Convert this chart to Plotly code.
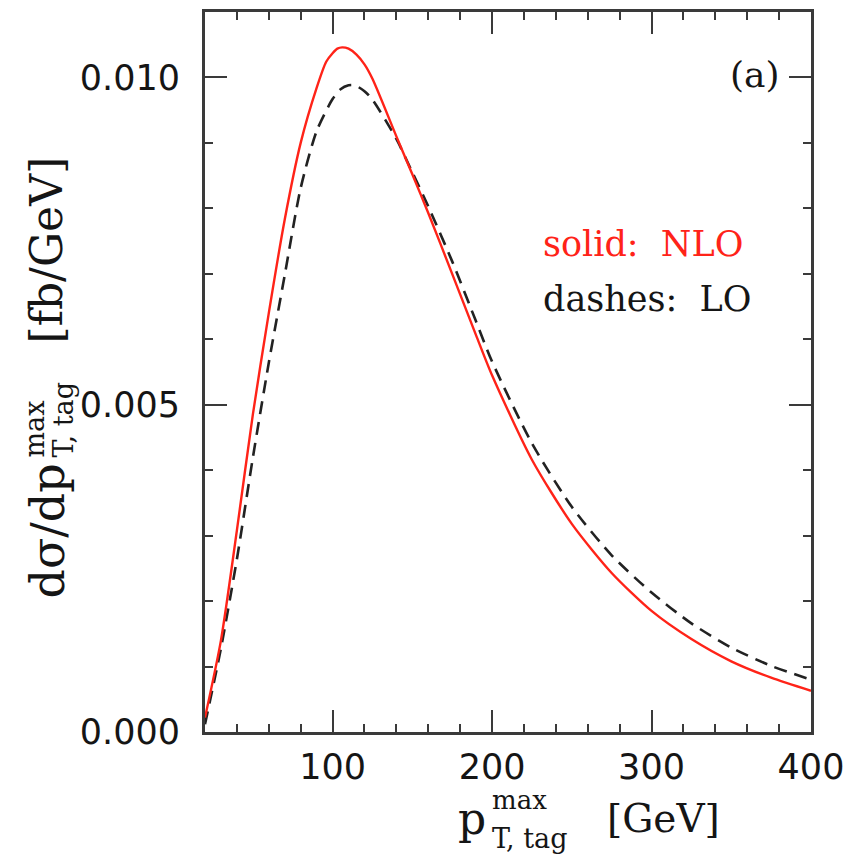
import plotly.graph_objects as go

# ---- data ----
pt_nlo = [20, 30, 40, 50, 60, 70, 80, 90, 96, 100, 103, 106, 110, 115, 120, 125, 140, 150, 160, 175,
          190, 200, 225, 250, 275, 300, 325, 350, 375, 400]
nlo = [0.00022, 0.00140, 0.00308, 0.00485, 0.00640, 0.00783, 0.00900, 0.00984, 0.01024, 0.01037,
       0.01044, 0.01046, 0.01044, 0.01035, 0.01020, 0.00998, 0.00910, 0.00852, 0.00793, 0.00700,
       0.00606, 0.00545, 0.00416, 0.00318, 0.00243, 0.00185, 0.00142, 0.00108, 0.00083, 0.00063]

pt_lo = [20, 30, 40, 50, 60, 70, 80, 90, 100, 105, 110, 114, 120, 125, 140, 150, 160, 175, 190, 200,
         225, 250, 275, 300, 325, 350, 375, 400]
lo = [0.00012, 0.00128, 0.00264, 0.00419, 0.00564, 0.00698, 0.00831, 0.00918, 0.00967, 0.00982,
      0.00988, 0.00988, 0.00979, 0.00966, 0.00906, 0.00855, 0.00803, 0.00719, 0.00627, 0.00566,
      0.00441, 0.00344, 0.00270, 0.00213, 0.00166, 0.00129, 0.00101, 0.00080]

x_ticks = [100, 200, 300, 400]
y_ticks = [0.0, 0.005, 0.010]
y_tick_labels = ["0.000", "0.005", "0.010"]

W, H = 851, 855
BODY = 8  # default page margin of the html body shifts the figure
# target plot frame in screen pixels
FL, FR, FT, FB = 205, 811, 12, 732
L, T = FL - BODY, FT - BODY
R = W - (FR - BODY)
B = H - (FB - BODY)
PW, PH = FR - FL, FB - FT


def px(x):
    return (x - FL) / PW


def py(y):
    return (FB - y) / PH


RED = "#ff2318"
FRAME = "#3a3a3a"
INK = "#151515"
SERIF = "DejaVu Serif"
SANS = "DejaVu Sans"

fig = go.Figure()
fig.add_trace(go.Scatter(x=pt_lo, y=lo, mode="lines",
                         line=dict(color="#222222", width=2.6, dash="13px,8px", shape="spline", smoothing=0.7),
                         name="LO", showlegend=False))
fig.add_trace(go.Scatter(x=pt_nlo, y=nlo, mode="lines",
                         line=dict(color=RED, width=2.4, shape="spline", smoothing=0.7),
                         name="NLO", showlegend=False))

axis_common = dict(showline=True, linewidth=3, linecolor=FRAME, mirror="allticks", ticks="inside",
                   ticklen=22, tickwidth=2, tickcolor=FRAME, showgrid=False, zeroline=False,
                   automargin=False, tickfont=dict(family=SANS, size=35, color=INK))

fig.update_xaxes(range=[20, 400], tickvals=x_ticks, ticktext=[str(v) for v in x_ticks],
                 minor=dict(ticks="inside", ticklen=8, tickwidth=2, tickcolor=FRAME, dtick=20, tick0=0),
                 ticklabelstandoff=2, **axis_common)
fig.update_yaxes(range=[0, 0.011], tickvals=y_ticks, ticktext=y_tick_labels,
                 minor=dict(ticks="inside", ticklen=8, tickwidth=2, tickcolor=FRAME, dtick=0.001, tick0=0),
                 ticklabelstandoff=15, **axis_common)

ann = []
# x axis title: p^{max}_{T, tag} [GeV]
ann.append(dict(text="p", x=px(488), y=py(818), xanchor="right", yanchor="middle",
                font=dict(family=SERIF, size=44, color=INK)))
ann.append(dict(text="max", x=px(490), y=py(800), xanchor="left", yanchor="middle",
                font=dict(family=SERIF, size=26, color=INK)))
ann.append(dict(text="T, tag", x=px(490), y=py(838), xanchor="left", yanchor="middle",
                font=dict(family=SERIF, size=27, color=INK)))
ann.append(dict(text="[GeV]", x=px(605), y=py(818), xanchor="left", yanchor="middle",
                font=dict(family=SERIF, size=39, color=INK)))
# y axis title (rotated)
ann.append(dict(text="dσ/dp", x=px(47), y=py(462), xanchor="center", yanchor="top", textangle=-90,
                font=dict(family=SERIF, size=46, color=INK)))
ann.append(dict(text="max", x=px(34), y=py(460), xanchor="center", yanchor="bottom", textangle=-90,
                font=dict(family=SERIF, size=27, color=INK)))
ann.append(dict(text="T, tag", x=px(63), y=py(460), xanchor="center", yanchor="bottom", textangle=-90,
                font=dict(family=SERIF, size=27, color=INK)))
ann.append(dict(text="[fb/GeV]", x=px(46), y=py(346), xanchor="center", yanchor="bottom", textangle=-90,
                font=dict(family=SERIF, size=44, color=INK)))
# labels inside the plot
ann.append(dict(text="(a)", x=px(755), y=py(74), xanchor="center", yanchor="middle",
                font=dict(family=SERIF, size=36, color=INK)))
ann.append(dict(text="solid:  NLO", x=px(541), y=py(244), xanchor="left", yanchor="middle",
                font=dict(family=SERIF, size=35, color=RED)))
ann.append(dict(text="dashes:  LO", x=px(541), y=py(299), xanchor="left", yanchor="middle",
                font=dict(family=SERIF, size=35, color=INK)))
for a in ann:
    a.update(xref="paper", yref="paper", showarrow=False)

fig.update_layout(width=W, height=H, margin=dict(l=L, r=R, t=T, b=B),
                  paper_bgcolor="white", plot_bgcolor="white", annotations=ann)

fig.write_html("out.html")
